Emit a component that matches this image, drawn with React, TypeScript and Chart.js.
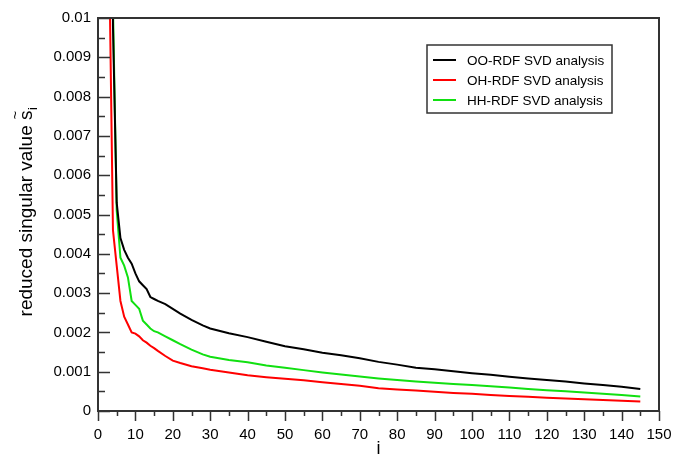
import React, { useEffect, useRef } from "react";
import { Chart, registerables } from "chart.js";

Chart.register(...registerables);

const iValues = [1, 2, 3, 4, 5, 6, 7, 8, 9, 10, 11, 12, 13, 14, 15, 16, 18, 20, 22, 25, 28, 30, 35, 40, 45, 50, 55, 60, 65, 70, 75, 80, 85, 90, 95, 100, 105, 110, 115, 120, 125, 130, 135, 140, 145];

const ooValues = [0.05, 0.04, 0.03, 0.0098, 0.0053, 0.0044, 0.0041, 0.0039, 0.00375, 0.0035, 0.0033, 0.0032, 0.0031, 0.0029, 0.00285, 0.0028, 0.00272, 0.0026, 0.00248, 0.00232, 0.00218, 0.0021, 0.00198, 0.00188, 0.00176, 0.00165, 0.00157, 0.00148, 0.00142, 0.00134, 0.00125, 0.00118, 0.0011, 0.00106, 0.00101, 0.00096, 0.00092, 0.00087, 0.00083, 0.00079, 0.00075, 0.0007, 0.00066, 0.00062, 0.00056];

const ohValues = [0.04, 0.02, 0.0115, 0.0046, 0.0037, 0.0028, 0.0024, 0.0022, 0.002, 0.00197, 0.0019, 0.0018, 0.00174, 0.00166, 0.0016, 0.00153, 0.0014, 0.00128, 0.00122, 0.00114, 0.00109, 0.00105, 0.00098, 0.00091, 0.00086, 0.00082, 0.00078, 0.00073, 0.00069, 0.00064, 0.00058, 0.00055, 0.00052, 0.00049, 0.00046, 0.00044, 0.00041, 0.00038, 0.00036, 0.00034, 0.00032, 0.0003, 0.00028, 0.00026, 0.00024];

const hhValues = [0.06, 0.05, 0.04, 0.0103, 0.0051, 0.0039, 0.0037, 0.0034, 0.0028, 0.0027, 0.0026, 0.0023, 0.0022, 0.0021, 0.00203, 0.002, 0.0019, 0.0018, 0.0017, 0.00156, 0.00144, 0.00138, 0.0013, 0.00124, 0.00116, 0.0011, 0.00104, 0.00098, 0.00093, 0.00088, 0.00083, 0.00079, 0.00075, 0.00072, 0.00069, 0.00066, 0.00063, 0.0006, 0.00056, 0.00053, 0.0005, 0.00047, 0.00044, 0.00041, 0.00037];

const seriesLabels = ["OO-RDF SVD analysis", "OH-RDF SVD analysis", "HH-RDF SVD analysis"];
const seriesColors = ["#000000", "#ff0000", "#11e011"];

const FONT = "'Liberation Sans', Arial, Helvetica, sans-serif";
const AXIS_COLOR = "#333333";

const decorPlugin = {
  id: "decor",
  afterDatasetsDraw(chart: any) {
    const { ctx, chartArea, scales } = chart;
    const { left, right, top, bottom } = chartArea;
    const xs = scales.x;
    const ys = scales.y;
    ctx.save();
    // x ticks pointing outward (down), y ticks pointing inward
    ctx.strokeStyle = AXIS_COLOR;
    ctx.lineWidth = 1.5;
    ctx.beginPath();
    for (let v = 0; v <= 150; v += 5) {
      const px = Math.round(xs.getPixelForValue(v)) + 0.5;
      const len = v % 10 === 0 ? 10 : 5;
      ctx.moveTo(px, bottom);
      ctx.lineTo(px, bottom + len);
    }
    for (let k = 0; k <= 20; k++) {
      const v = k * 0.0005;
      const py = Math.round(ys.getPixelForValue(v)) + 0.5;
      const len = k % 2 === 0 ? 12 : 7;
      ctx.moveTo(left, py);
      ctx.lineTo(left + len, py);
    }
    ctx.stroke();
    // frame
    ctx.lineWidth = 2;
    ctx.strokeStyle = AXIS_COLOR;
    ctx.strokeRect(left, top, right - left, bottom - top);

    // legend
    const lx = 427, ly = 45, lw = 185, lh = 68;
    ctx.fillStyle = "#ffffff";
    ctx.fillRect(lx, ly, lw, lh);
    ctx.lineWidth = 1.5;
    ctx.strokeStyle = AXIS_COLOR;
    ctx.strokeRect(lx, ly, lw, lh);
    ctx.font = `13.5px ${FONT}`;
    ctx.textBaseline = "middle";
    ctx.textAlign = "left";
    chart.data.datasets.forEach((ds: any, i: number) => {
      const y = 60 + i * 20;
      ctx.strokeStyle = ds.borderColor;
      ctx.lineWidth = 2;
      ctx.beginPath();
      ctx.moveTo(433, y);
      ctx.lineTo(456, y);
      ctx.stroke();
      ctx.fillStyle = "#000000";
      ctx.fillText(ds.label, 467, y + 1);
    });

    // y title
    ctx.save();
    ctx.translate(27, 212);
    ctx.rotate(-Math.PI / 2);
    ctx.font = `19px ${FONT}`;
    ctx.fillStyle = "#000000";
    ctx.textBaseline = "middle";
    const main = "reduced singular value ";
    const wMain = ctx.measureText(main).width;
    const wS = ctx.measureText("s").width;
    ctx.font = `13px ${FONT}`;
    const wI = ctx.measureText("i").width;
    const total = wMain + wS + wI;
    const x0 = -total / 2;
    ctx.font = `19px ${FONT}`;
    ctx.textAlign = "left";
    ctx.fillText(main, x0, 0);
    ctx.fillText("s", x0 + wMain, 0);
    ctx.font = `15px ${FONT}`;
    ctx.fillText("~", x0 + wMain + 0.5, -11);
    ctx.font = `13px ${FONT}`;
    ctx.fillText("i", x0 + wMain + wS + 0.5, 6);
    ctx.restore();

    // x title
    ctx.font = `18px ${FONT}`;
    ctx.fillStyle = "#000000";
    ctx.textAlign = "center";
    ctx.textBaseline = "middle";
    ctx.fillText("i", (left + right) / 2, 449);
    ctx.restore();
  },
};

export default function App() {
  const canvasRef = useRef<HTMLCanvasElement | null>(null);

  useEffect(() => {
    const canvas = canvasRef.current;
    if (!canvas) return;
    const mk = (vals: number[]) => iValues.map((x, k) => ({ x, y: vals[k] }));
    const chart = new Chart(canvas, {
      type: "line",
      data: {
        datasets: [ooValues, ohValues, hhValues].map((vals, k) => ({
          label: seriesLabels[k],
          data: mk(vals),
          borderColor: seriesColors[k],
          backgroundColor: seriesColors[k],
          borderWidth: 2,
          pointRadius: 0,
          tension: 0,
          fill: false,
        })),
      },
      options: {
        animation: false,
        responsive: false,
        devicePixelRatio: 1,
        layout: { padding: { top: 18, right: 21, left: 0, bottom: 0 } },
        plugins: {
          legend: { display: false },
          tooltip: { enabled: false },
        },
        scales: {
          x: {
            type: "linear",
            min: 0,
            max: 150,
            grid: { display: false, drawTicks: false },
            border: { display: false },
            ticks: {
              stepSize: 10,
              padding: 15,
              color: "#000000",
              font: { family: FONT, size: 15 },
              maxRotation: 0,
              autoSkip: false,
            },
            afterFit(scale: any) {
              scale.height = 49;
              scale.paddingLeft = 0;
              scale.paddingRight = 0;
            },
          },
          y: {
            type: "linear",
            min: 0,
            max: 0.01,
            grid: { display: false, drawTicks: false },
            border: { display: false },
            ticks: {
              stepSize: 0.001,
              padding: 7,
              color: "#000000",
              font: { family: FONT, size: 15 },
              autoSkip: false,
              callback: (v: any) => {
                const n = Number(v);
                if (Math.abs(n) < 1e-12) return "0";
                return String(parseFloat(n.toFixed(4)));
              },
            },
            afterFit(scale: any) {
              scale.width = 98;
              scale.paddingTop = 0;
              scale.paddingBottom = 0;
            },
          },
        },
      },
      plugins: [decorPlugin],
    });
    return () => chart.destroy();
  }, []);

  return (
    <div style={{ position: "fixed", left: 0, top: 0, width: 680, height: 460, background: "#fff" }}>
      <canvas ref={canvasRef} width={680} height={460} style={{ width: 680, height: 460 }} />
    </div>
  );
}
